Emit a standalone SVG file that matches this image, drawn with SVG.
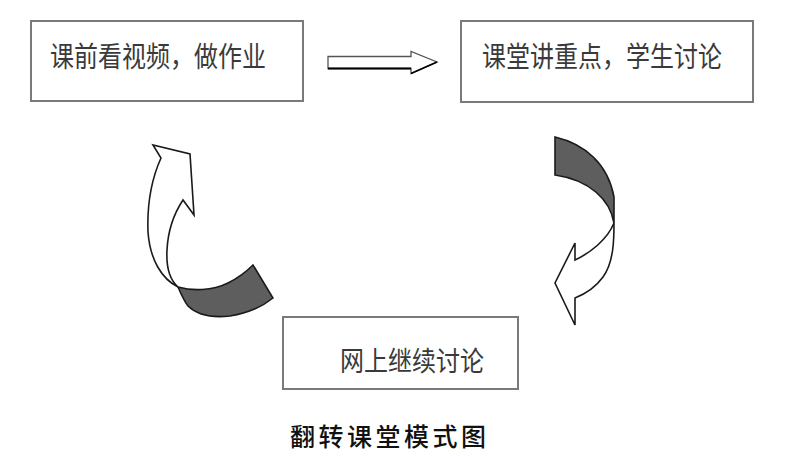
<svg xmlns="http://www.w3.org/2000/svg" width="800" height="473" viewBox="0 0 800 473">
  <style>
    .box { fill: #ffffff; stroke: #7a7a7a; stroke-width: 2; }
    .lbl { font-family: "Noto Sans CJK SC", "Noto Sans", sans-serif; font-size: 24px; fill: #3a3a3a; }
    .cap { font-family: "Noto Sans CJK SC", "Noto Sans", sans-serif; font-size: 25px; font-weight: 500; fill: #111111; letter-spacing: 3.5px; }
    .outline { fill: #ffffff; stroke: #1a1a1a; stroke-width: 1.6; stroke-linejoin: miter; }
    .shade { fill: #5e5e5e; stroke: #1a1a1a; stroke-width: 1.6; stroke-linejoin: miter; }
  </style>
  <rect width="800" height="473" fill="#ffffff"/>

  <g id="node-before-class">
    <rect class="box" x="31" y="21" width="272" height="80"/>
    <text class="lbl" transform="translate(50,67) scale(1,1.2)">课前看视频，做作业</text>
  </g>

  <g id="node-in-class">
    <rect class="box" x="461" y="21" width="292" height="81"/>
    <text class="lbl" transform="translate(482,67) scale(1,1.2)">课堂讲重点，学生讨论</text>
  </g>

  <g id="node-online">
    <rect class="box" x="283" y="317" width="235" height="72"/>
    <text class="lbl" transform="translate(340,371) scale(1,1.15)">网上继续讨论</text>
  </g>

  <g id="caption">
    <text class="cap" x="290" y="446">翻转课堂模式图</text>
  </g>

  <g id="connectors">
    <!-- top block arrow -->
    <path d="M328,56.5 L411,56.5 L411,51.5 L437,62 L411,73.5 L411,68.5 L328,68.5 Z" fill="#ffffff" stroke="#555555" stroke-width="1.3"/>
    <line x1="328" y1="68.5" x2="411" y2="68.5" stroke="#000000" stroke-width="2.2"/>
    <line x1="411" y1="73.5" x2="437" y2="62" stroke="#000000" stroke-width="1.6"/>

    <!-- right curved arrow (down) -->
    <path class="shade" d="M555,137 C585,144 608,164 614,197 L614,223 C610,200 590,180 555,175 Z"/>
    <path class="outline" d="M614,223 C614,238 614,262 603,277 C595,288 585,294 575,298 L575,325 L555,283 L575,243 L575,260 C590,253 607,240 614,223 Z"/>

    <!-- left curved arrow (up) -->
    <path class="outline" d="M178,287 C162,279 150,260 148,232 C147,205 152,178 161,158 L153,145 L190,154 L194,215 L183,200 C175,212 168,230 167,250 C166,268 170,280 178,287 Z"/>
    <path class="shade" d="M178,287 C192,291 212,291 228,283 C238,278 247,271 253,265 L273,298 C262,307 248,313 230,316 C212,318 198,316 188,306 C184,301 181,294 178,287 Z"/>
  </g>
</svg>
